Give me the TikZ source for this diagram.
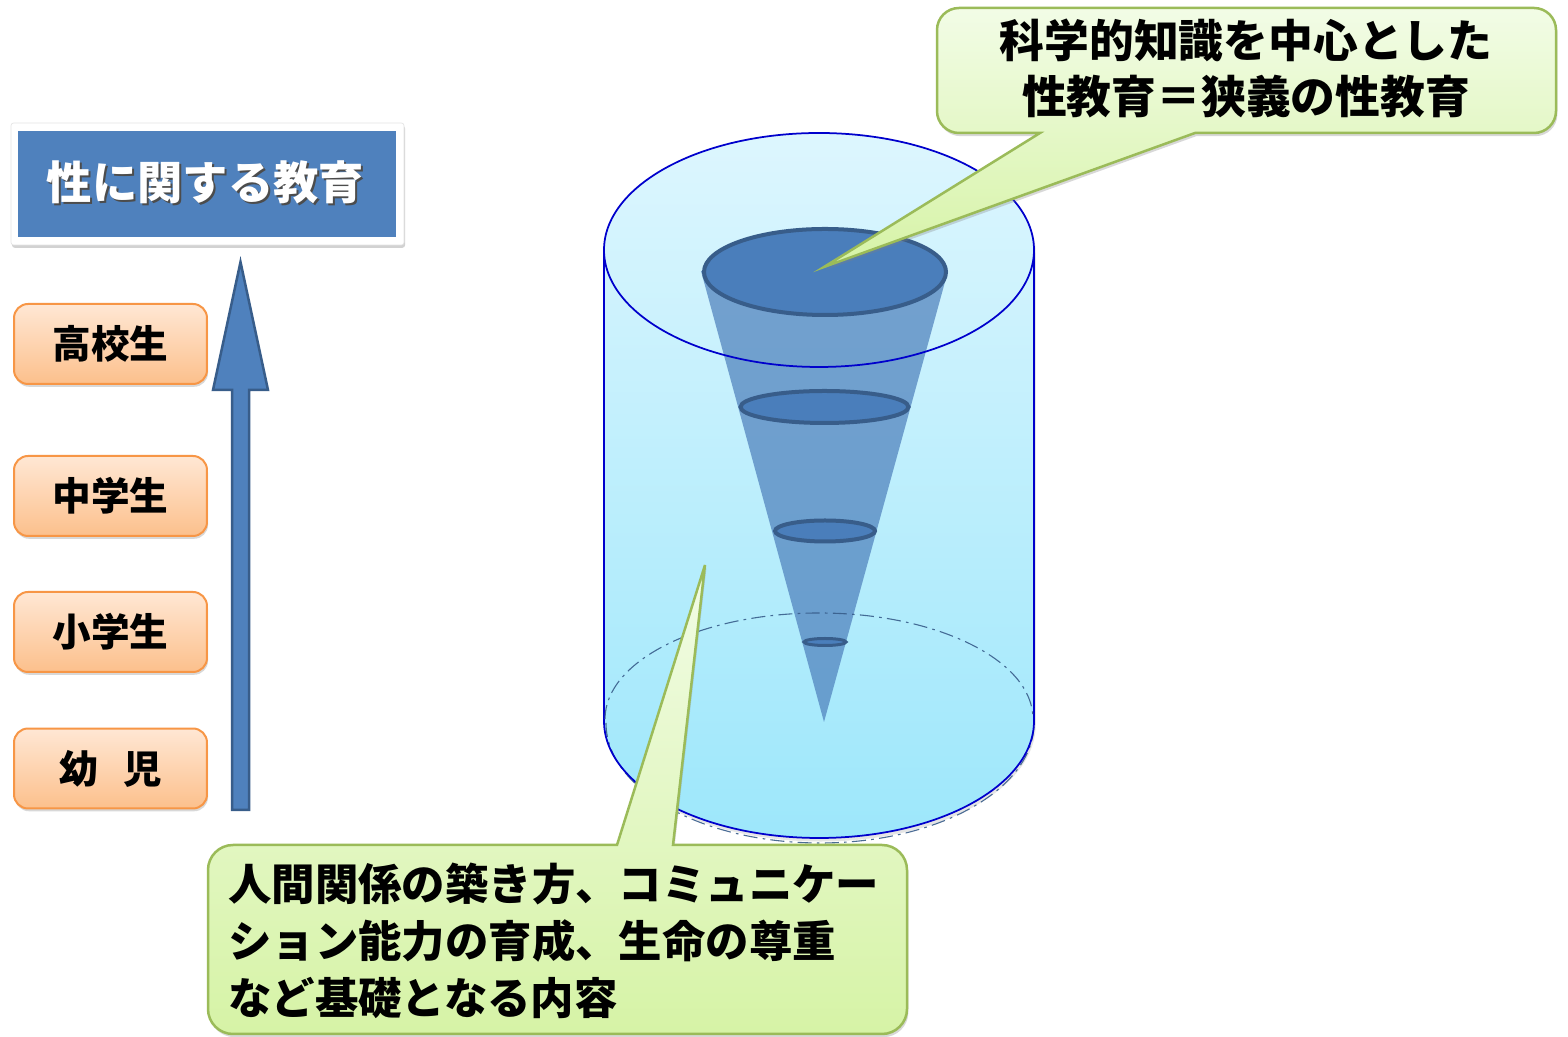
\documentclass[tikz,border=0pt]{standalone}
\usepackage{fontspec}
\setmainfont{Noto Sans CJK JP}
\usetikzlibrary{shadows}
\definecolor{titleblue}{HTML}{4F81BD}
\definecolor{darkblue}{HTML}{385D8A}
\definecolor{ellblue}{HTML}{4A7EBB}
\definecolor{cylline}{HTML}{0000CC}
\definecolor{cyltop}{HTML}{DDF6FE}
\definecolor{cylbot}{HTML}{9DE7FB}
\definecolor{orangeline}{HTML}{F79646}
\definecolor{orangetop}{HTML}{FFE7D4}
\definecolor{orangebot}{HTML}{FCC08C}
\definecolor{greenline}{HTML}{9BBB59}
\definecolor{greentop}{HTML}{F2FCE6}
\definecolor{greenbot}{HTML}{D6F3A6}
\tikzset{
  agebox/.style={draw=orangeline, line width=0.04cm, rounded corners=0.28cm,
    top color=orangetop, bottom color=orangebot, minimum width=3.86cm,
    minimum height=1.6cm, inner sep=0pt,
    font=\bfseries\fontsize{22}{24}\selectfont,
    drop shadow={shadow xshift=0.6pt, shadow yshift=-1.6pt, opacity=0.3}},
  callout/.style={draw=greenline, line width=0.05cm, top color=greentop,
    bottom color=greenbot,
    drop shadow={shadow xshift=0.8pt, shadow yshift=-1.8pt, opacity=0.3}},
  calltext/.style={inner sep=0pt, text=black},
  cylstroke/.style={draw=cylline, line width=0.035cm},
  coneell/.style={fill=ellblue, draw=darkblue, line width=0.08cm},
  hidden/.style={darkblue, line width=0.022cm, dash pattern=on 8pt off 3pt on 1.5pt off 3pt, opacity=0.9},
}
\begin{document}
\begin{tikzpicture}[x=0.02cm,y=0.02cm]
\useasboundingbox (0,0) rectangle (1568,1037);
\fill[white] (0,0) rectangle (1568,1037);

% title
\filldraw[fill=white, draw=black!10, line width=0.4pt, rounded corners=1.5pt,
  drop shadow={shadow xshift=0.6pt, shadow yshift=-1.6pt, opacity=0.35}]
  (11,792) rectangle (404,914);
\fill[titleblue] (18,800) rectangle (396,906);
\node[text=black!70, inner sep=0pt, font=\bfseries\fontsize{25.8}{30}\selectfont]
  at (207.5,853) {性に関する教育};
\node (title) [text=white, inner sep=0pt, font=\bfseries\fontsize{25.8}{30}\selectfont]
  at (205.5,855) {性に関する教育};

% age boxes
\node (koko) [agebox] at (110.5,693) {高校生};
\node (chu)  [agebox] at (110.5,541) {中学生};
\node (sho)  [agebox] at (110.5,405) {小学生};
\node (yoji) [agebox] at (110.5,268.5) {幼\hspace{0.65em}児};

% block arrow
\coordinate (abase) at (240.5,227);
\coordinate (atip) at (240.5,775);
\filldraw[fill=titleblue, draw=darkblue, line width=0.05cm]
  (232,227) -- (249,227) -- (249,647) -- (268,647) -- (atip) -- (213,647)
  -- (232,647) -- cycle;

% cylinder body
\path[top color=cyltop, bottom color=cylbot,
  drop shadow={shadow xshift=1pt, shadow yshift=-2pt, opacity=0.2}]
  (604,787) -- (604,316) arc[start angle=180, end angle=360, x radius=215, y radius=117]
  -- (1034,787) arc[start angle=0, end angle=180, x radius=215, y radius=117] -- cycle;
% hidden base rim (lower part just outside the front edge)
\draw[hidden] (606,314) arc[start angle=180, end angle=360, x radius=214, y radius=120];
\draw[cylstroke] (604,787) -- (604,316)
  arc[start angle=180, end angle=360, x radius=215, y radius=117] -- (1034,787);

% cone
\fill[titleblue, opacity=0.72] (701,766) -- (824,315) -- (948,766) -- cycle;

% cylinder top rim and hidden base (back half)
\draw[cylstroke] (819,787) ellipse[x radius=215, y radius=117];
\draw[hidden] (605,318) arc[start angle=180, end angle=0, x radius=214, y radius=106];

% cone rings
\draw[coneell] (825,765) ellipse[x radius=121, y radius=43];
\draw[coneell] (824.5,630) ellipse[x radius=84, y radius=16];
\draw[coneell] (825,506) ellipse[x radius=50, y radius=10.5];
\draw[coneell, line width=0.06cm] (825,395) ellipse[x radius=21, y radius=3.5];

% top callout
\path[callout] (1040,904) -- (824,770) -- (1195,904) -- (1534,904)
  arc[start angle=270, end angle=360, radius=22] -- (1556,1007)
  arc[start angle=0, end angle=90, radius=22] -- (959,1029)
  arc[start angle=90, end angle=180, radius=22] -- (937,926)
  arc[start angle=180, end angle=270, radius=22] -- cycle;
\node (sci) [calltext, align=center, font=\bfseries\fontsize{25.5}{32.3}\selectfont]
  at (1246,968.5) {科学的知識を中心とした\\性教育＝狭義の性教育};

% bottom callout
\path[callout] (673,192) -- (705,472) -- (617,192) -- (233,192)
  arc[start angle=90, end angle=180, radius=25] -- (208,28)
  arc[start angle=180, end angle=270, radius=25] -- (882,3)
  arc[start angle=270, end angle=360, radius=25] -- (907,167)
  arc[start angle=0, end angle=90, radius=25] -- cycle;
\node (basic) [calltext, align=left, anchor=west, font=\bfseries\fontsize{24.7}{32.3}\selectfont]
  at (228,96) {人間関係の築き方、コミュニケー\\ション能力の育成、生命の尊重\\など基礎となる内容};
\end{tikzpicture}
\end{document}
